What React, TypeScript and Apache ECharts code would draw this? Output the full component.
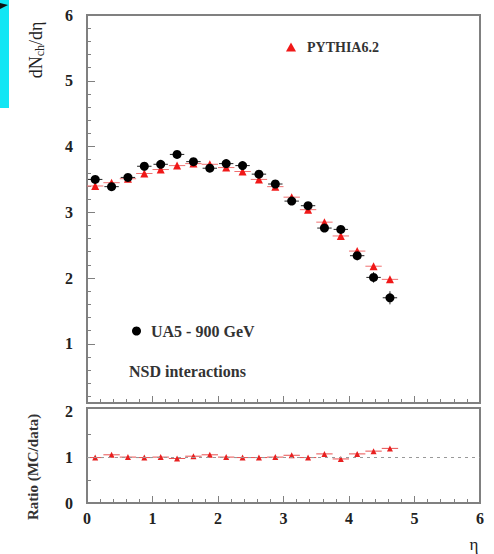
import React, { useEffect, useRef } from "react";
import * as echarts from "echarts";

const eta = [0.125, 0.375, 0.625, 0.875, 1.125, 1.375, 1.625, 1.875, 2.125, 2.375, 2.625, 2.875, 3.125, 3.375, 3.625, 3.875, 4.125, 4.375, 4.625];
const ua5 = [3.50, 3.39, 3.53, 3.70, 3.73, 3.88, 3.77, 3.67, 3.74, 3.71, 3.58, 3.43, 3.17, 3.10, 2.76, 2.74, 2.34, 2.01, 1.70];
const ua5Err = [0.06, 0.05, 0.05, 0.05, 0.05, 0.05, 0.05, 0.05, 0.05, 0.05, 0.05, 0.05, 0.05, 0.05, 0.06, 0.06, 0.07, 0.08, 0.1];
const pythia = [3.40, 3.45, 3.51, 3.59, 3.65, 3.71, 3.74, 3.73, 3.68, 3.62, 3.50, 3.39, 3.23, 3.04, 2.85, 2.64, 2.41, 2.18, 1.98];
const pythiaErr = [0.02, 0.02, 0.02, 0.02, 0.02, 0.02, 0.02, 0.02, 0.02, 0.02, 0.02, 0.02, 0.02, 0.02, 0.02, 0.02, 0.02, 0.02, 0.02];
const ratio = [0.99, 1.05, 1.0, 0.99, 1.0, 0.97, 1.02, 1.05, 1.0, 0.99, 0.99, 1.0, 1.04, 0.99, 1.07, 0.96, 1.07, 1.13, 1.19];
const ratioErr = [0.02, 0.02, 0.02, 0.02, 0.02, 0.02, 0.02, 0.02, 0.02, 0.02, 0.02, 0.02, 0.02, 0.02, 0.02, 0.02, 0.03, 0.03, 0.03];

const topLabels = [1, 2, 3, 4, 5, 6];
const ratioLabels = [0, 1, 2];
const ratioTicks = [0.5, 1, 1.5];
const topMinorTicks: number[] = [];
for (let i = 1; i < 30; i++) if (i % 5 !== 0) topMinorTicks.push(i / 5);

const FONT = "'Liberation Serif', 'DejaVu Serif', serif";
const FRAME = "#808080";

function errBars(color: string, halfW: number) {
  return (params: any, api: any) => {
    const x = api.value(0), y = api.value(1), e = api.value(2);
    const l = api.coord([x - halfW, y]);
    const r = api.coord([x + halfW, y]);
    const t = api.coord([x, y + e]);
    const b = api.coord([x, y - e]);
    return {
      type: "group",
      children: [
        { type: "line", shape: { x1: l[0], y1: l[1], x2: r[0], y2: r[1] }, style: { stroke: color, lineWidth: 1 } },
        { type: "line", shape: { x1: t[0], y1: t[1], x2: b[0], y2: b[1] }, style: { stroke: color, lineWidth: 1 } },
      ],
    };
  };
}

export default function App() {
  const ref = useRef<HTMLDivElement>(null);
  useEffect(() => {
    if (!ref.current) return;
    const chart = echarts.init(ref.current, null, { renderer: "svg" });
    const xBase = {
      type: "value",
      min: 0,
      max: 6,
      interval: 1,
      axisLine: { show: false },
      splitLine: { show: false },
      axisTick: { inside: true, length: 7, lineStyle: { color: FRAME } },
      minorTick: { show: true, splitNumber: 5, length: 4, lineStyle: { color: FRAME } },
    };
    const labelStyle = { fontFamily: FONT, fontSize: 16, fontWeight: "bold", color: "#222" };
    chart.setOption({
      animation: false,
      backgroundColor: "#fff",
      grid: [
        { left: 87, right: 14, top: 15, height: 388, show: true, borderColor: FRAME, borderWidth: 2, backgroundColor: "transparent" },
        { left: 87, right: 14, top: 408, height: 95, show: true, borderColor: FRAME, borderWidth: 2, backgroundColor: "transparent" },
      ],
      xAxis: [
        { ...xBase, gridIndex: 0, axisLabel: { show: false } },
        { ...xBase, gridIndex: 1, axisLabel: { ...labelStyle, margin: 7 } },
      ],
      yAxis: [
        {
          type: "value", gridIndex: 0, min: 0.1, max: 6, position: "left",
          axisLine: { show: false }, splitLine: { show: false },
          axisLabel: { ...labelStyle, margin: 14, customValues: topLabels },
          axisTick: { inside: true, length: 8, customValues: topLabels, lineStyle: { color: FRAME } },
        },
        {
          type: "value", gridIndex: 0, min: 0.1, max: 6, position: "left", offset: 0,
          axisLine: { show: false }, splitLine: { show: false },
          axisLabel: { show: false },
          axisTick: { inside: true, length: 4, customValues: topMinorTicks, lineStyle: { color: FRAME } },
        },
        {
          type: "value", gridIndex: 1, min: 0, max: 2.07, position: "left",
          axisLine: { show: false }, splitLine: { show: false },
          axisLabel: { ...labelStyle, margin: 14, customValues: ratioLabels },
          axisTick: { inside: true, length: 4, customValues: ratioTicks, lineStyle: { color: FRAME } },
        },
      ],
      legend: [
        {
          data: [{ name: "PYTHIA6.2", icon: "triangle" }],
          left: 281, top: 35, itemWidth: 10, itemHeight: 9,
          textStyle: { fontFamily: FONT, fontSize: 14, fontWeight: "bold", color: "#333", padding: [0, 0, 0, 6] },
        },
        {
          data: [{ name: "UA5 - 900 GeV", icon: "circle" }],
          left: 127, top: 318, itemWidth: 9, itemHeight: 9,
          textStyle: { fontFamily: FONT, fontSize: 16, fontWeight: "bold", color: "#333", padding: [0, 0, 0, 5] },
        },
      ],
      graphic: [
        { type: "rect", shape: { x: 0, y: 0, width: 9, height: 108 }, style: { fill: "#12E6F4" } },
        { type: "polygon", shape: { points: [[0, 3], [8, 5], [0, 9]] }, style: { fill: "#111" } },
        {
          type: "text", x: 36, y: 50, rotation: Math.PI / 2,
          style: {
            text: "{a|dN}{b|ch}{a|/dη}", align: "center", verticalAlign: "middle",
            rich: {
              a: { fontFamily: FONT, fontSize: 18, fill: "#222" },
              b: { fontFamily: FONT, fontSize: 12, fill: "#222", verticalAlign: "bottom", padding: [8, 0, 0, 0] },
            },
          },
        },
        {
          type: "text", x: 33, y: 467, rotation: Math.PI / 2,
          style: { text: "Ratio (MC/data)", align: "center", verticalAlign: "middle", fontFamily: FONT, fontSize: 15, fontWeight: "bold", fill: "#333" },
        },
        {
          type: "text", x: 474, y: 544,
          style: { text: "η", align: "center", verticalAlign: "middle", fontFamily: FONT, fontSize: 17, fill: "#222" },
        },
        {
          type: "text", x: 129, y: 371,
          style: { text: "NSD interactions", align: "left", verticalAlign: "middle", fontFamily: FONT, fontSize: 16, fontWeight: "bold", fill: "#333" },
        },
      ],
      series: [
        {
          type: "custom", name: "pyErr", xAxisIndex: 0, yAxisIndex: 0, silent: true,
          renderItem: errBars("#f07070", 0.125),
          data: eta.map((x, i) => [x, pythia[i], pythiaErr[i]]),
          z: 2,
        },
        {
          type: "custom", name: "uaErr", xAxisIndex: 0, yAxisIndex: 0, silent: true,
          renderItem: errBars("#222", 0.11),
          data: eta.map((x, i) => [x, ua5[i], ua5Err[i]]),
          z: 3,
        },
        {
          type: "scatter", name: "PYTHIA6.2", xAxisIndex: 0, yAxisIndex: 0,
          symbol: "triangle", symbolSize: 8, itemStyle: { color: "#f01818", opacity: 1 },
          data: eta.map((x, i) => [x, pythia[i]]), z: 4,
        },
        {
          type: "scatter", name: "UA5 - 900 GeV", xAxisIndex: 0, yAxisIndex: 0,
          symbol: "circle", symbolSize: 9, itemStyle: { color: "#000", opacity: 1 },
          data: eta.map((x, i) => [x, ua5[i]]), z: 5,
        },
        {
          type: "custom", name: "ratioErr", xAxisIndex: 1, yAxisIndex: 2, silent: true,
          renderItem: errBars("#e85050", 0.125),
          data: eta.map((x, i) => [x, ratio[i], ratioErr[i]]),
          z: 3,
        },
        {
          type: "scatter", name: "ratio", xAxisIndex: 1, yAxisIndex: 2,
          symbol: "triangle", symbolSize: 6, itemStyle: { color: "#e82020", opacity: 1 },
          data: eta.map((x, i) => [x, ratio[i]]), z: 4,
          markLine: {
            silent: true, symbol: "none", label: { show: false },
            lineStyle: { color: "#999", type: [3, 4], width: 1 },
            data: [{ yAxis: 1 }],
          },
        },
      ],
    });
    return () => chart.dispose();
  }, []);
  return <div ref={ref} style={{ position: "absolute", left: 0, top: 0, width: 494, height: 554 }} />;
}
